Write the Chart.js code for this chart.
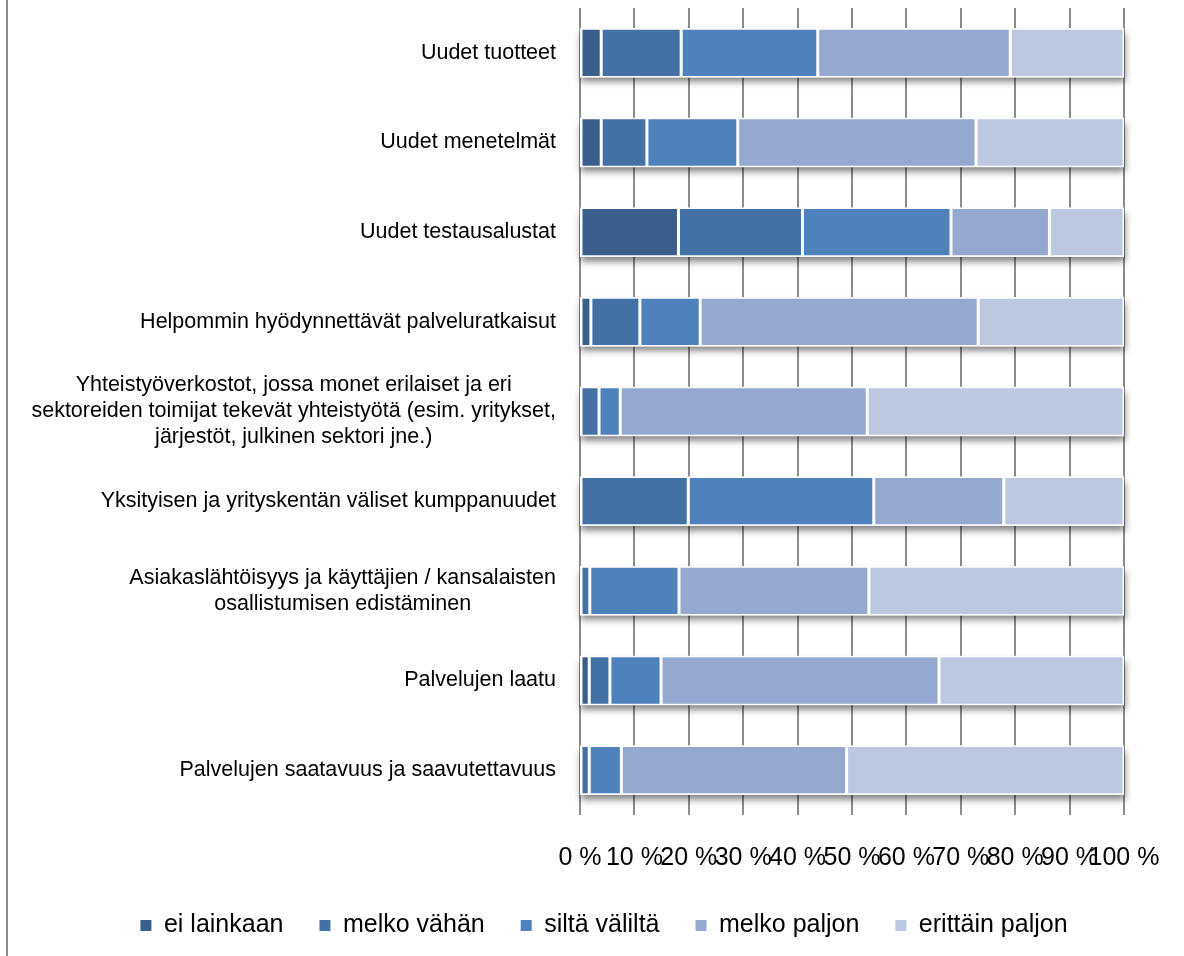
<!DOCTYPE html>
<html>
<head>
<meta charset="utf-8">
<script src="https://cdn.jsdelivr.net/npm/chart.js@4"></script>
<style>
  html, body { margin: 0; padding: 0; background: #fff; overflow: hidden; }
  #frame { position: absolute; left: 6px; top: 0; width: 2px; height: 956px; background: #8c8c8c; }
  #chart { position: absolute; left: 8px; top: 0; }
</style>
</head>
<body>
<div id="frame"></div>
<canvas id="chart" width="1192" height="956"></canvas>
<script>
const categories = [
    'Uudet tuotteet',
    'Uudet menetelmät',
    'Uudet testausalustat',
    'Helpommin hyödynnettävät palveluratkaisut',
    ['Yhteistyöverkostot, jossa monet erilaiset ja eri',
     'sektoreiden toimijat tekevät yhteistyötä (esim. yritykset,',
     'järjestöt, julkinen sektori jne.)'],
    'Yksityisen ja yrityskentän väliset kumppanuudet',
    ['Asiakaslähtöisyys ja käyttäjien / kansalaisten',
     'osallistumisen edistäminen'],
    'Palvelujen laatu',
    'Palvelujen saatavuus ja saavutettavuus'
];

// shares of answers, %
const eiLainkaan     = [3.9, 3.9, 18.1, 2.0, 0,    0,    0,    1.7, 0];
const melkoVahan     = [14.7, 8.4, 22.8, 9.0, 3.5, 19.9, 1.8,  3.8, 1.7];
const siltaValilta   = [25.1, 16.7, 27.3, 11.1, 3.9, 34.1, 16.4, 9.4, 5.9];
const melkoPaljon    = [35.4, 43.8, 18.1, 51.1, 45.4, 23.9, 34.9, 51.1, 41.4];
const erittainPaljon = [20.9, 27.2, 13.7, 26.8, 47.2, 22.1, 46.9, 34.0, 51.0];

const seriesNames = ['ei lainkaan', 'melko vähän', 'siltä väliltä', 'melko paljon', 'erittäin paljon'];
const seriesColors = ['#3b5f8d', '#4471a5', '#4f81bd', '#95a9d0', '#bcc8e0'];
const xTicks = [0, 10, 20, 30, 40, 50, 60, 70, 80, 90, 100];

Chart.defaults.font.family = '"Liberation Sans", Arial, sans-serif';
Chart.defaults.color = '#000';

// soft drop shadow under every stacked bar
const barShadow = {
    id: 'barShadow',
    beforeDatasetsDraw(chart) {
        const ctx = chart.ctx;
        const x = chart.scales.x;
        const last = chart.getDatasetMeta(chart.data.datasets.length - 1);
        ctx.save();
        ctx.shadowColor = 'rgba(0,0,0,0.5)';
        ctx.shadowBlur = 7;
        ctx.shadowOffsetY = 5;
        ctx.shadowOffsetX = 1;
        ctx.fillStyle = '#fff';
        last.data.forEach(bar => {
            const p = bar.getProps(['x', 'y', 'height'], true);
            const left = x.getPixelForValue(0);
            ctx.fillRect(left, p.y - p.height / 2, p.x - left, p.height);
        });
        ctx.restore();
    }
};

// category labels: lines centred on each other, block right-aligned to the axis
const categoryLabels = {
    id: 'categoryLabels',
    afterDraw(chart) {
        const ctx = chart.ctx;
        const y = chart.scales.y;
        const rightEdge = 548;
        const lineH = 26;
        ctx.save();
        ctx.font = '21.5px "Liberation Sans", Arial, sans-serif';
        ctx.fillStyle = '#000';
        ctx.textAlign = 'center';
        ctx.textBaseline = 'middle';
        categories.forEach((label, i) => {
            const lines = Array.isArray(label) ? label : [label];
            const w = Math.max(...lines.map(l => ctx.measureText(l).width));
            const cx = rightEdge - w / 2;
            const cy = y.getPixelForValue(i);
            lines.forEach((l, k) => {
                ctx.fillText(l, cx, cy + (k - (lines.length - 1) / 2) * lineH);
            });
        });
        ctx.restore();
    }
};

const values = [eiLainkaan, melkoVahan, siltaValilta, melkoPaljon, erittainPaljon];

new Chart(document.getElementById('chart'), {
    type: 'bar',
    data: {
        labels: categories,
        datasets: values.map((data, i) => ({
            label: seriesNames[i],
            data: data,
            backgroundColor: seriesColors[i],
            borderColor: '#fff',
            borderWidth: 1.5,
            borderSkipped: false,
            barPercentage: 0.55,
            categoryPercentage: 1
        }))
    },
    options: {
        responsive: false,
        animation: false,
        indexAxis: 'y',
        layout: { padding: { left: 76, right: 76, top: 8, bottom: 8 } },
        scales: {
            x: {
                stacked: true,
                min: 0,
                max: 100,
                afterBuildTicks: scale => { scale.ticks = xTicks.map(v => ({ value: v })); },
                afterFit: scale => { scale.height = 62; },
                ticks: {
                    autoSkip: false,
                    maxRotation: 0,
                    padding: 28,
                    font: { size: 25 },
                    color: '#000',
                    callback: v => v + ' %'
                },
                grid: { color: '#8c8c8c', lineWidth: 2, drawTicks: false },
                border: { display: false }
            },
            y: {
                stacked: true,
                ticks: { display: false },
                grid: { display: false },
                border: { display: false },
                afterFit: scale => { scale.width = 496; }
            }
        },
        plugins: {
            tooltip: { enabled: false },
            legend: {
                position: 'bottom',
                labels: {
                    boxWidth: 11,
                    boxHeight: 11,
                    padding: 36,
                    font: { size: 25 },
                    color: '#000',
                    generateLabels: chart =>
                        Chart.defaults.plugins.legend.labels.generateLabels(chart)
                            .map(l => Object.assign(l, { lineWidth: 0 }))
                }
            }
        }
    },
    plugins: [barShadow, categoryLabels]
});
</script>
</body>
</html>
